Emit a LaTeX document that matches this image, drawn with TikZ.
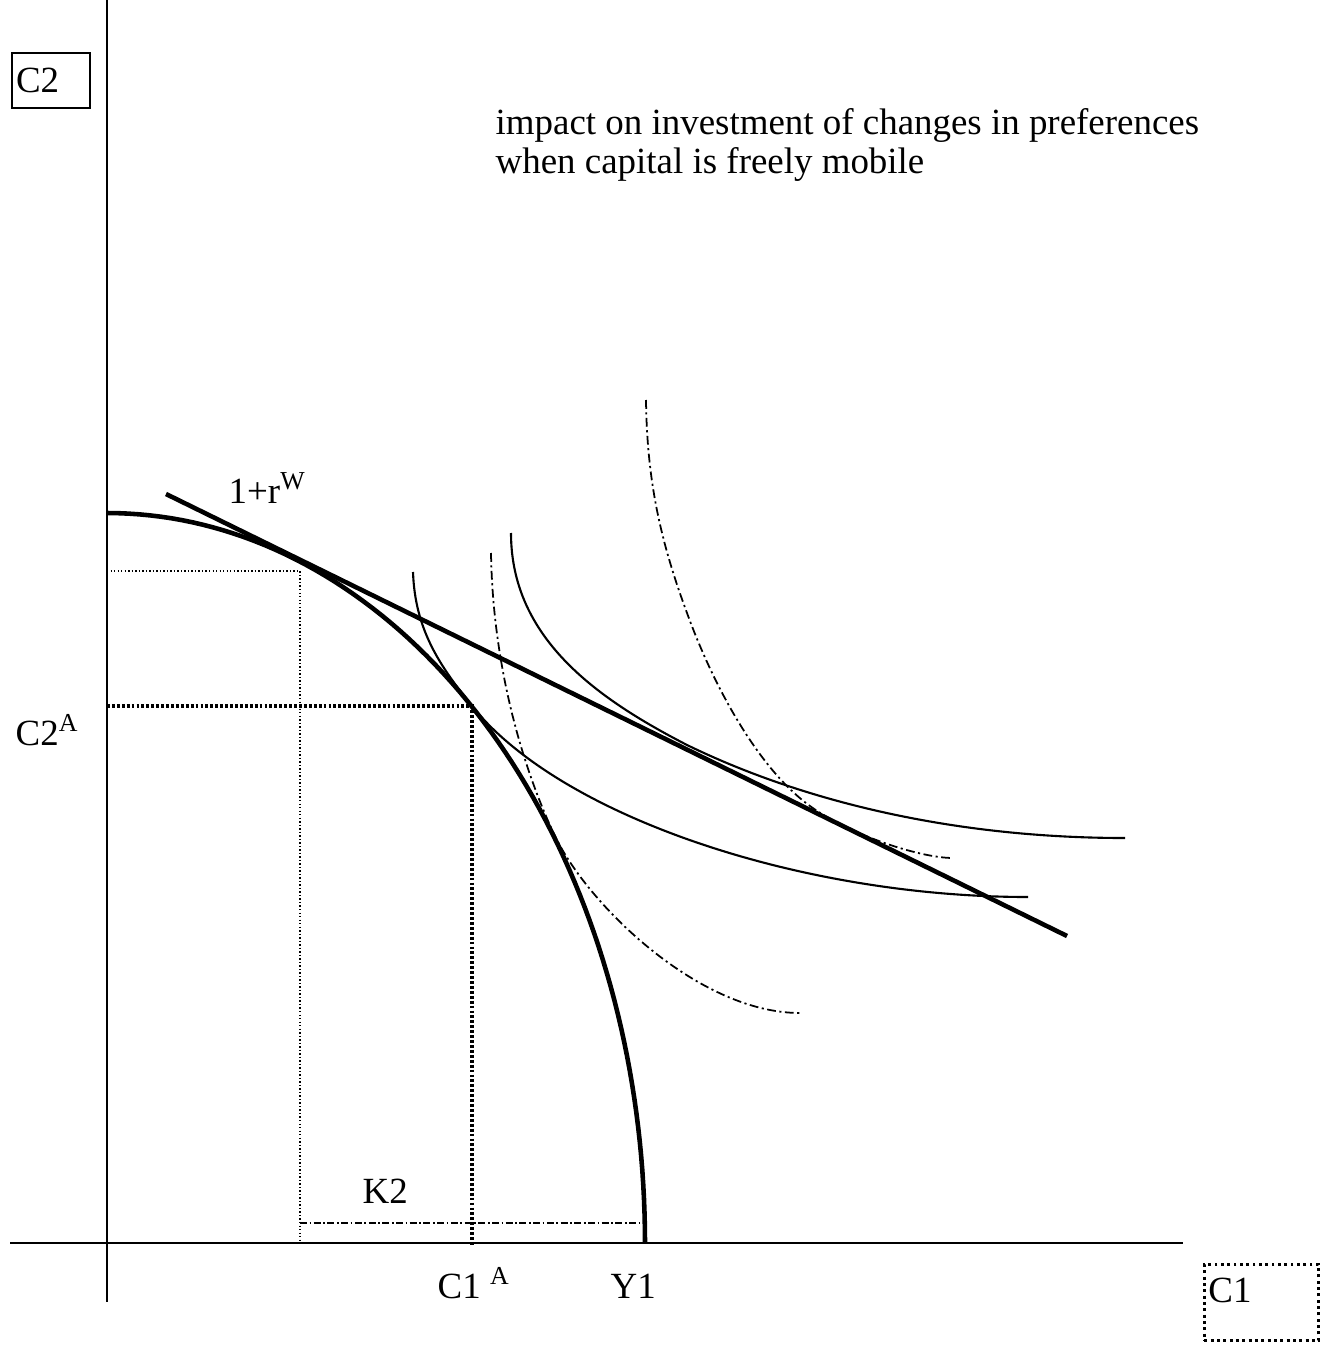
\documentclass[tikz,border=0pt]{standalone}
\usepackage{fontspec}
\setmainfont{Liberation Serif}
\usetikzlibrary{positioning, calc}

\begin{document}
\begin{tikzpicture}[
    x=0.01cm, y=-0.01cm,
    every node/.style={font=\fontsize{10.5}{11}\selectfont, inner sep=0pt},
    axis/.style={draw, line width=0.6pt},
    frontier/.style={draw, line width=1.3pt},
    indiff/.style={draw, line width=0.6pt},
    newindiff/.style={draw, line width=0.5pt, dash pattern=on 2.5pt off 1pt on 0.6pt off 1pt},
    guide/.style={draw, line width=0.4pt, dash pattern=on 0.4pt off 0.6pt},
    guidebold/.style={draw, line width=0.9pt, dash pattern=on 0.8pt off 0.6pt},
    kline/.style={draw, line width=0.4pt, dash pattern=on 2pt off 0.7pt on 0.5pt off 0.7pt},
    axisbox/.style={anchor=north west, align=left, inner xsep=0.04cm, text height=0.26cm}
]
\useasboundingbox (0,0) rectangle (1323,1352);

% axes and their boxed names
\coordinate (origin) at (107,1243);
\draw[axis] (107,0) -- (107,1302);
\draw[axis] (10,1243) -- (1183,1243);
\node[axisbox, draw, line width=0.6pt, text width=0.70cm, inner ysep=0.13cm, text depth=0.03cm] (c2box) at (11,52) {C2};
\node[axisbox, draw, line width=0.8pt, densely dotted, text width=1.06cm, inner ysep=0.12cm, text depth=0.26cm] (c1box) at (1203,1263) {C1};

\node[anchor=north west, align=left] (title) at (495,108)
    {impact on investment of changes in preferences\\when capital is freely mobile};

% production frontier and world interest line
\coordinate (prod) at (300,571);
\coordinate (cons) at (472,706);
\coordinate (y1pt) at (645,1243);
\draw[frontier] plot[domain=0:90, samples=80] ({107+538*cos(\x)}, {1243-730*sin(\x)});
\coordinate (rwstart) at (166,494);
\coordinate (rwend) at (1067,936);
\draw[frontier] (rwstart) -- (rwend);

% indifference curves
\draw[indiff] (413,572) .. controls (415,630) and (440,666) .. (cons)
    .. controls (560,816) and (800,897) .. (1028,897);
\draw[indiff] (511,533) .. controls (511,640) and (600,700) .. (687,745)
    .. controls (800,800) and (950,838) .. (1125,838);
\draw[newindiff] (491,553) .. controls (493,680) and (530,785) .. (556,838)
    .. controls (590,907) and (700,1013) .. (800,1013);
\draw[newindiff] (646,400) .. controls (647,480) and (660,540) .. (687,613)
    .. controls (715,690) and (760,770) .. (810,806)
    .. controls (850,835) and (920,858) .. (953,858);

% guides
\draw[guide] (prod -| origin) -- (prod) -- (prod |- origin);
\draw[guidebold] (cons -| origin) -- (cons) -- ($(cons |- origin)+(0,2)$);
\draw[kline] ($(prod |- origin)+(0,-20)$) -- ($(y1pt)+(0,-20)$);

% labels
\node[anchor=base west] (rw) at (228,503) {1+r\textsuperscript{W}};
\node[anchor=base west] (c2a) at (15,745) {C2\textsuperscript{A}};
\node[anchor=base west] (k2) at (362,1203) {K2};
\node[anchor=base west] (c1a) at (437,1298) {C1 \textsuperscript{A}};
\node[anchor=base west] (y1) at (610,1298) {Y1};
\end{tikzpicture}
\end{document}
